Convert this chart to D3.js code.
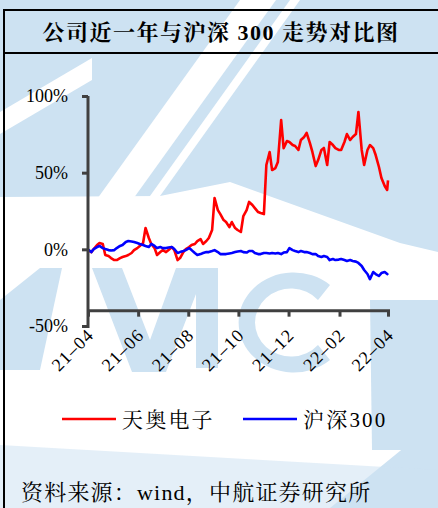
<!DOCTYPE html>
<html>
<head>
<meta charset="utf-8">
<script src="https://cdn.jsdelivr.net/npm/d3@7"></script>
<style>
  html, body { margin: 0; padding: 0; background: #ffffff; }
  svg { display: block; }
</style>
</head>
<body>
<div id="chart"></div>
<script>
// sample dates (Mon/Thu)
const dates = [
  "2021-04-22","2021-04-26","2021-04-29",
  "2021-05-03","2021-05-06","2021-05-10","2021-05-13","2021-05-17","2021-05-20","2021-05-24","2021-05-27","2021-05-31",
  "2021-06-03","2021-06-07","2021-06-10","2021-06-14","2021-06-17","2021-06-21","2021-06-24","2021-06-28",
  "2021-07-01","2021-07-05","2021-07-08","2021-07-12","2021-07-15","2021-07-19","2021-07-22","2021-07-26","2021-07-29",
  "2021-08-02","2021-08-05","2021-08-09","2021-08-12","2021-08-16","2021-08-19","2021-08-23","2021-08-26","2021-08-30",
  "2021-09-02","2021-09-06","2021-09-09","2021-09-13","2021-09-16","2021-09-20","2021-09-23","2021-09-27","2021-09-30",
  "2021-10-04","2021-10-07","2021-10-11","2021-10-14","2021-10-18","2021-10-21","2021-10-25","2021-10-28",
  "2021-11-01","2021-11-04","2021-11-08","2021-11-11","2021-11-15","2021-11-18","2021-11-22","2021-11-25","2021-11-29",
  "2021-12-02","2021-12-06","2021-12-09","2021-12-13","2021-12-16","2021-12-20","2021-12-23","2021-12-27","2021-12-30",
  "2022-01-03","2022-01-06","2022-01-10","2022-01-13","2022-01-17","2022-01-20","2022-01-24","2022-01-27","2022-01-31",
  "2022-02-03","2022-02-07","2022-02-10","2022-02-14","2022-02-17","2022-02-21","2022-02-24","2022-02-28",
  "2022-03-03","2022-03-07","2022-03-10","2022-03-14","2022-03-17","2022-03-21","2022-03-24","2022-03-28","2022-03-31",
  "2022-04-04","2022-04-07","2022-04-11","2022-04-14","2022-04-18","2022-04-21","2022-04-22"
];

// 天奥电子, cumulative change in %
const tianao = [
  -0.5, -1.8, 0.2,
  2.8, 4.1, 3.5, -3.7, -4.4, -5.7, -7.0, -7.0, -5.7,
  -5.0, -4.4, -3.7, -2.4, -0.5, 0.8, 2.2, 4.1,
  13.9, 7.4, 3.5, 0.8, -3.7, -1.8, -0.5, -1.8, -0.5,
  1.5, -0.5, -7.0, -5.7, -1.8, 0.2, 1.5, 2.8, 3.5,
  5.4, 6.7, 3.5, 5.4, 7.4, 12.6, 33.5, 25.6, 23.0,
  19.1, 17.8, 14.5, 17.8, 13.9, 12.6, 11.3, 21.7,
  25.6, 30.9, 28.9, 26.9, 24.3, 23.7, 23.0, 55.0, 63.5,
  51.7, 53.0, 57.0, 84.3, 66.0, 70.6, 70.0, 68.0, 67.4,
  64.8, 71.3, 73.3, 75.9, 69.3, 63.5, 54.3, 58.2, 64.8,
  66.1, 55.0, 70.0, 68.0, 66.0, 64.8, 64.8, 70.0,
  75.2, 71.3, 73.3, 75.2, 89.6, 64.8, 55.0, 64.8, 68.0,
  66.0, 61.5, 53.7, 46.5, 41.3, 38.7, 45.0
];

// 沪深300, cumulative change in %
const hs300 = [
  -0.1, -1.8, 0.2,
  1.5, 2.2, 0.8, 0.2, -0.5, -0.8, -0.5, 0.8, 2.2,
  2.8, 4.8, 5.4, 5.1, 4.8, 4.1, 3.5, 2.8,
  2.2, 1.5, 3.5, 2.2, 0.8, 1.5, 0.8, 0.8, 1.2,
  1.5, 0.2, -2.4, -1.8, -1.1, -0.5, 0.8, -0.5, -2.4,
  -3.7, -3.1, -2.4, -1.8, -1.8, -1.1, -0.5, -1.8, -3.1,
  -3.1, -3.1, -2.7, -2.4, -1.8, -1.4, -1.1, -1.8,
  -2.1, -1.1, -1.1, -2.4, -3.1, -3.1, -2.4, -2.4, -2.7,
  -2.4, -2.7, -2.4, -3.1, -2.1, -1.8, 0.8, -0.5, -1.1,
  -1.8, -1.1, -1.8, -1.8, -2.4, -3.1, -3.1, -4.4, -5.0,
  -4.4, -5.0, -7.0, -6.3, -7.0, -6.7, -6.3, -7.0,
  -7.6, -7.0, -7.6, -8.0, -8.9, -10.9, -13.5, -16.1, -19.4,
  -14.8, -16.1, -17.4, -15.5, -14.8, -16.1, -15.5
];

const seriesNames = ["天奥电子", "沪深300"];
const seriesColors = ["#ff0000", "#0000ff"];

const yTicks = [-50, 0, 50, 100];
const xTickDates = ["2021-04-22","2021-06-22","2021-08-22","2021-10-22","2021-12-22","2022-02-22","2022-04-22"];
const xTickLabels = ["21–04","21–06","21–08","21–10","21–12","22–02","22–04"];

const W = 438, H = 508;
const AXIS_COLOR = '#404040';
const WATER = '#cde2f2';
const SERIF = '"Liberation Serif", "Times New Roman", serif';
const SONG = '"Liberation Serif", "Noto Serif CJK SC", serif';

const parse = d3.timeParse('%Y-%m-%d');

const svg = d3.select('#chart').append('svg')
  .attr('width', W)
  .attr('height', H)
  .attr('xmlns', 'http://www.w3.org/2000/svg');

// watermark (rough AVIC logo behind the chart)
const wm = svg.append('g');
wm.append('polygon')
  .attr('points', '0,0 438,0 438,252 400,243 230,182 160,196 0,197')
  .attr('fill', WATER);
wm.append('polygon').attr('points', '240,0 276,0 118,220 82,220').attr('fill', '#ffffff');
wm.append('polygon').attr('points', '290,0 300,0 150,210 140,210').attr('fill', '#ffffff');
wm.append('polygon').attr('points', '0,112 92,58 92,80 0,134').attr('fill', '#ffffff');
// lower letters
wm.append('polygon').attr('points', '0,300 40,268 62,268 40,370 0,370').attr('fill', WATER);
wm.append('polygon').attr('points', '92,268 122,268 150,340 176,268 206,268 166,372 132,372').attr('fill', WATER);
wm.append('rect').attr('x', 196).attr('y', 268).attr('width', 22).attr('height', 100).attr('fill', WATER);
wm.append('path')
  .attr('d', 'M330,285 A55,50 0 1 0 330,360 L318,345 A36,34 0 1 1 318,300 Z')
  .attr('fill', WATER);
wm.append('polygon').attr('points', '438,260 438,508 330,508 438,420').attr('fill', WATER);
wm.append('polygon').attr('points', '370,300 438,300 438,450 372,450').attr('fill', WATER);
wm.append('polygon').attr('points', '0,445 438,470 438,508 0,508').attr('fill', WATER).attr('opacity', 0.55);

// frame + title
svg.append('line').attr('x1', 4).attr('x2', 4).attr('y1', 9).attr('y2', H).attr('stroke', '#000').attr('stroke-width', 2);
svg.append('line').attr('x1', 4).attr('x2', W).attr('y1', 10).attr('y2', 10).attr('stroke', '#000').attr('stroke-width', 2);
svg.append('line').attr('x1', 4).attr('x2', W).attr('y1', 53).attr('y2', 53).attr('stroke', '#000').attr('stroke-width', 2);
svg.append('text')
  .attr('x', 221).attr('y', 40)
  .attr('text-anchor', 'middle')
  .style('font-family', SONG)
  .attr('font-weight', 700)
  .attr('font-size', 22)
  .attr('letter-spacing', 1.5)
  .attr('fill', '#000')
  .text('公司近一年与沪深 300 走势对比图');

// scales
const x = d3.scaleTime()
  .domain([parse(xTickDates[0]), parse(xTickDates[xTickDates.length - 1])])
  .range([88, 388]);
const y = d3.scaleLinear().domain([-50, 100]).range([326, 96]);
const X_CROSS = -40;

// lines
const line = d3.line().x(d => x(d[0])).y(d => y(d[1]));
const lineGroup = svg.append('g');
[tianao, hs300].forEach((vals, i) => {
  const pts = dates.map((d, j) => [parse(d), vals[j]]);
  lineGroup.append('path')
    .datum(pts)
    .attr('fill', 'none')
    .attr('stroke', seriesColors[i])
    .attr('stroke-width', 2.6)
    .attr('stroke-linejoin', 'round')
    .attr('d', line);
});

// y axis
const yAxis = svg.append('g')
  .attr('transform', 'translate(88,0)')
  .call(d3.axisLeft(y).tickValues(yTicks).tickSize(6).tickPadding(14).tickFormat(d => d + '%'));
yAxis.select('.domain').attr('stroke', AXIS_COLOR).attr('stroke-width', 3)
  .attr('d', `M0,${y(100)}V${y(-50) + 2}`);
yAxis.selectAll('.tick line').attr('stroke', AXIS_COLOR).attr('stroke-width', 3);
yAxis.selectAll('.tick text')
  .style('font-family', SERIF)
  .attr('font-size', 18).attr('fill', '#000');

// x axis
const xAxis = svg.append('g')
  .attr('transform', `translate(0,${y(X_CROSS)})`)
  .call(d3.axisBottom(x).tickValues(xTickDates.map(parse)).tickSize(6).tickFormat((d, i) => xTickLabels[i]));
xAxis.select('.domain').attr('stroke', AXIS_COLOR).attr('stroke-width', 3)
  .attr('d', `M${x.range()[0]},0H${x.range()[1] + 2}`);
xAxis.selectAll('.tick line').attr('stroke', AXIS_COLOR).attr('stroke-width', 3);
xAxis.selectAll('.tick text')
  .style('font-family', SERIF)
  .attr('font-size', 18).attr('fill', '#000')
  .attr('letter-spacing', 1.2)
  .attr('text-anchor', 'end')
  .attr('dy', '0.35em')
  .attr('transform', 'translate(2,21) rotate(-45)')
  .attr('y', 0).attr('x', 0);

// legend
const legend = svg.append('g');
const legendX = [62, 243];
seriesNames.forEach((name, i) => {
  legend.append('line')
    .attr('x1', legendX[i]).attr('x2', legendX[i] + 54)
    .attr('y1', 419).attr('y2', 419)
    .attr('stroke', seriesColors[i]).attr('stroke-width', 2.6);
  legend.append('text')
    .attr('x', legendX[i] + 60).attr('y', 427)
    .style('font-family', SONG)
    .attr('font-size', 21)
    .attr('letter-spacing', 2.2)
    .attr('fill', '#000')
    .text(name);
});

// source
svg.append('text')
  .attr('x', 21).attr('y', 500)
  .style('font-family', SONG)
  .attr('font-size', 22)
  .attr('letter-spacing', 1.2)
  .attr('fill', '#000')
  .text('资料来源：wind，中航证券研究所');
</script>
</body>
</html>
